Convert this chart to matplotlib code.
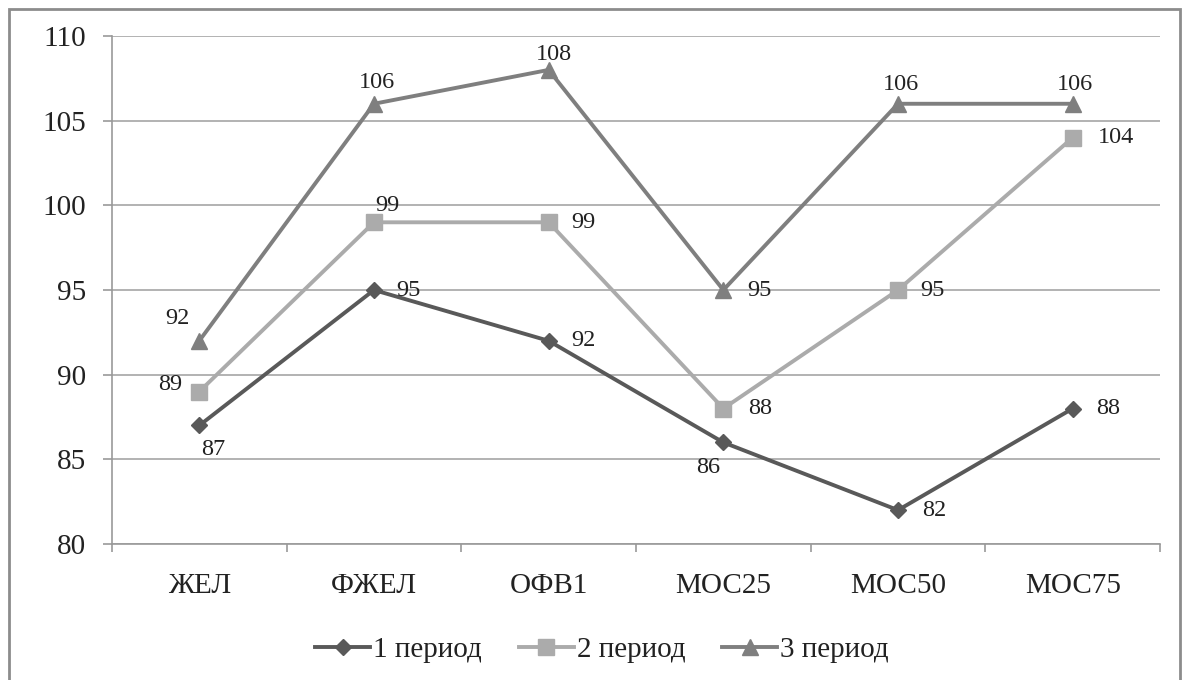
import matplotlib
matplotlib.use("Agg")
import matplotlib.pyplot as plt
from matplotlib.patches import Rectangle

categories = ["ЖЕЛ", "ФЖЕЛ", "ОФВ1", "МОС25", "МОС50", "МОС75"]
period1 = [87, 95, 92, 86, 82, 88]
period2 = [89, 99, 99, 88, 95, 104]
period3 = [92, 106, 108, 95, 106, 106]
series_names = ["1 период", "2 период", "3 период"]

plt.rcParams["font.family"] = ["Liberation Serif", "DejaVu Serif"]

fig = plt.figure(figsize=(11.91, 6.80), dpi=100)
ax = fig.add_axes([0.094, 0.2, 0.88, 0.747])

x = list(range(len(categories)))
styles = [
    (period1, "#595959", "D", 8),
    (period2, "#ABABAB", "s", 11),
    (period3, "#7F7F7F", "^", 11),
]
for (vals, col, mk, ms), name in zip(styles, series_names):
    ax.plot(x, vals, color=col, lw=2.8, marker=mk, ms=ms, mfc=col, mec=col,
            label=name, zorder=3, solid_joinstyle="round")

# value-label offsets in points: (dx, dy, ha, va)
offs1 = [(10, -17, "center", "center"), (16, 0, "left", "center"), (16, 0, "left", "center"),
         (-11, -18, "center", "center"), (17, 0, "left", "center"), (17, 0, "left", "center")]
offs2 = [(-12, 5, "right", "center"), (10, 12, "center", "center"), (16, 0, "left", "center"),
         (18, 0, "left", "center"), (16, 0, "left", "center"), (18, 0, "left", "center")]
offs3 = [(-16, 16, "center", "center"), (2, 15, "center", "center"), (4, 11, "center", "center"),
         (17, 0, "left", "center"), (2, 14, "center", "center"), (2, 14, "center", "center")]
for vals, offs in [(period1, offs1), (period2, offs2), (period3, offs3)]:
    for xi, v, (dx, dy, ha, va) in zip(x, vals, offs):
        ax.annotate(str(v), (xi, v), xytext=(dx, dy), textcoords="offset points",
                    ha=ha, va=va, fontsize=17.5, color="#222222", zorder=4)

ax.set_xlim(-0.5, len(categories) - 0.5)
ax.set_ylim(80, 110)
ax.set_yticks(range(80, 111, 5))
ax.yaxis.grid(True, color="#A6A6A6", lw=1.2)
ax.set_axisbelow(True)
ax.set_xticks(x)
ax.set_xticklabels(categories)
ax.set_xticks([i - 0.5 for i in range(len(categories) + 1)], minor=True)
ax.tick_params(axis="x", which="major", length=0, pad=21, labelsize=21, colors="#222222")
ax.tick_params(axis="x", which="minor", length=6, width=1.2, color="#999999")
ax.tick_params(axis="y", length=6.5, width=1.2, color="#999999", pad=12,
               labelsize=21, labelcolor="#222222")
for s in ["top", "right"]:
    ax.spines[s].set_visible(False)
for s in ["left", "bottom"]:
    ax.spines[s].set_color("#999999")
    ax.spines[s].set_linewidth(1.2)

fig.legend(loc="center", bbox_to_anchor=(602 / 1191, 1 - 650 / 680), ncol=3,
           frameon=False, fontsize=21, handlelength=1.9, handletextpad=0.1,
           columnspacing=1.25, labelcolor="#222222", borderpad=0)

fig.patches.append(Rectangle((9 / 1191, -0.02), (1180 - 9) / 1191, (671 + 14) / 680,
                             transform=fig.transFigure, fill=False,
                             edgecolor="#8C8C8C", lw=2))

fig.savefig("out.png", dpi=100, facecolor="white")
